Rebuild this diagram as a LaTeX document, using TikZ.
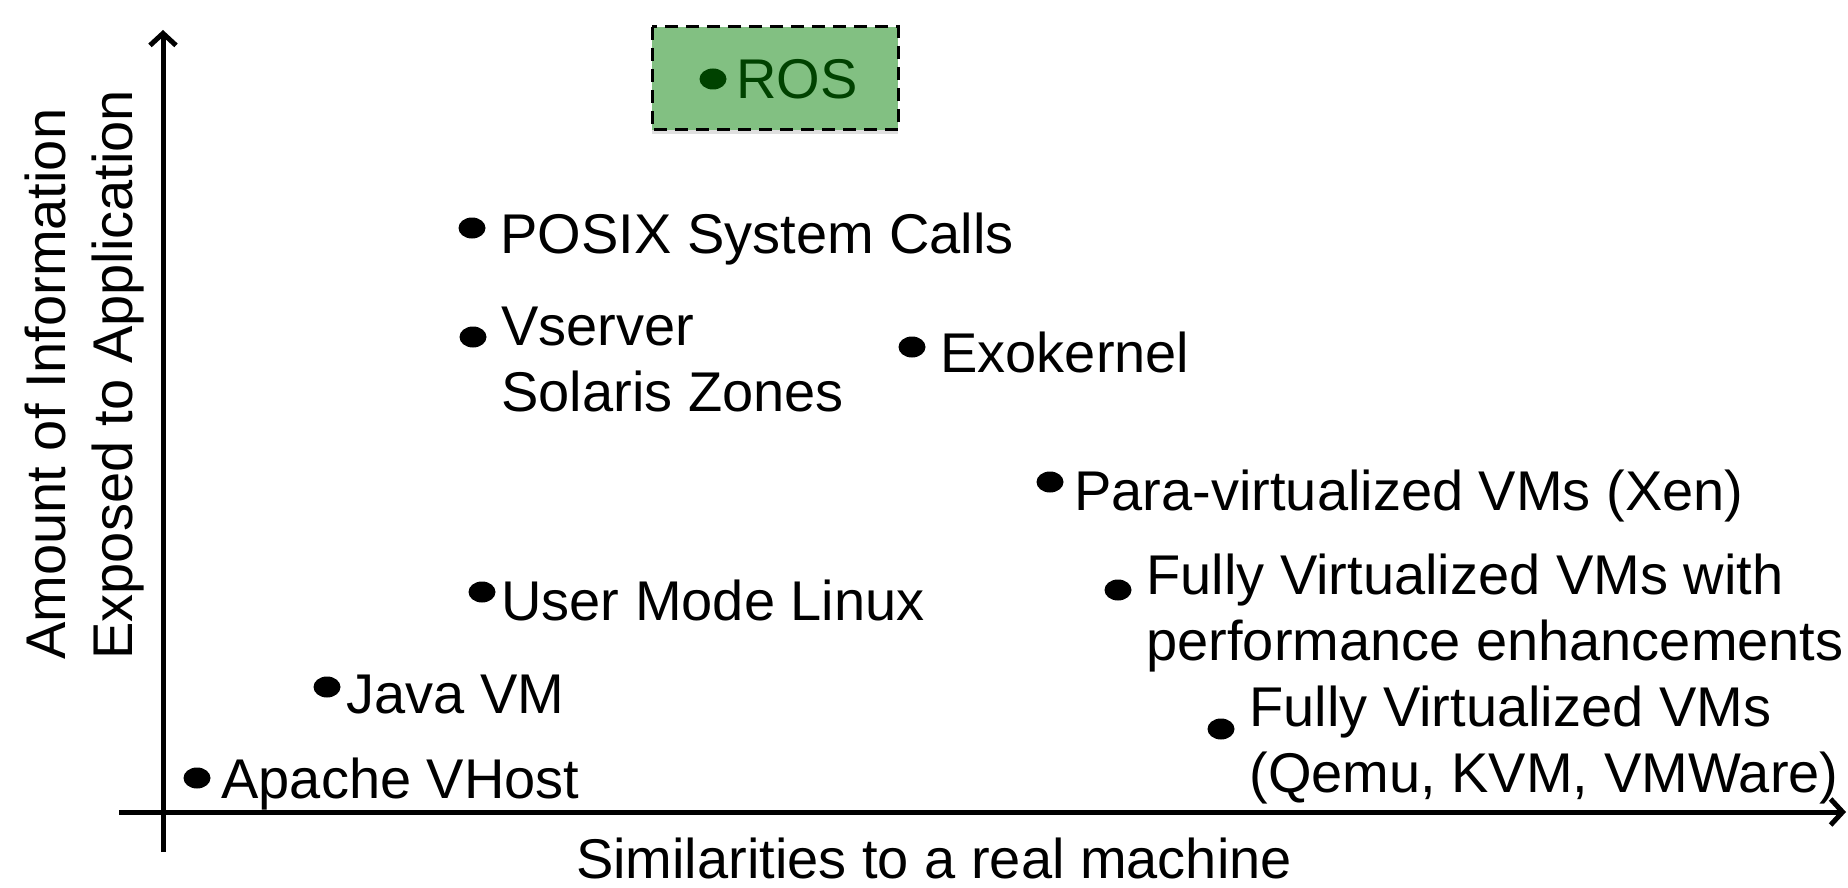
\documentclass[tikz,border=0pt]{standalone}
\usepackage{fontspec}
\setmainfont{Liberation Sans}
\usetikzlibrary{arrows.meta,shapes.geometric,shadows}
\definecolor{rosfill}{RGB}{130,192,130}
\definecolor{rostext}{RGB}{0,66,0}
\newcommand{\twoline}[2]{\vtop{\baselineskip=33pt\hbox{#1}\hbox{#2}}}
\begin{document}
\begin{tikzpicture}[x=0.5pt,y=-0.5pt,
  font=\fontsize{28}{33}\selectfont,
  dotmark/.style={shape=ellipse,fill=black,inner sep=0pt,minimum width=13.5pt,minimum height=10.5pt},
  lbl/.style={anchor=base west,inner sep=0pt},
  axis/.style={line width=2.5pt,-{Straight Barb[length=6pt,width=13pt,line width=2.5pt]}},
  rosbox/.style={draw=black,line width=1.5pt,dash pattern=on 6.5pt off 4pt,fill=rosfill,
    drop shadow={opacity=0.25,shadow xshift=0pt,shadow yshift=-2pt}}]
\useasboundingbox (0,0) rectangle (1848,888);
% axes
\coordinate (ybot) at (163,852);
\coordinate (ytop) at (163,30);
\coordinate (xl) at (119,812);
\coordinate (xr) at (1846,812);
\draw[axis] (ybot) -- (ytop);
\draw[axis] (xl) -- (xr);
% axis labels
\node[anchor=base,inner sep=0pt] (xlab) at (934,878) {Similarities to a real machine};
\node[anchor=base west,inner sep=0pt,rotate=90] (ylab1) at (65,660) {Amount of Information};
\node[anchor=base west,inner sep=0pt,rotate=90] (ylab2) at (132,660) {Exposed to Application};
% ROS
\path[rosbox] (652,27) rectangle (898,130);
\node[dotmark,fill=rostext] (dros) at (713,79) {};
\node[lbl,text=rostext] (ros) at (736,99) {ROS};
% points
\node[dotmark] (dposix) at (472,228) {};
\node[lbl] (posix) at (500,253) {POSIX System Calls};
\node[dotmark] (dvs) at (473,337) {};
\node[lbl] (vs) at (501,345) {\twoline{Vserver}{Solaris Zones}};
\node[dotmark] (dexo) at (912,347) {};
\node[lbl] (exo) at (940,372) {Exokernel};
\node[dotmark] (dpara) at (1050,482) {};
\node[lbl] (para) at (1074,510) {Para-virtualized VMs (Xen)};
\node[dotmark] (duml) at (482,592) {};
\node[lbl] (uml) at (501,620) {User Mode Linux};
\node[dotmark] (dfvp) at (1118,590) {};
\node[lbl] (fvp) at (1146,594) {\twoline{Fully Virtualized VMs with}{performance enhancements}};
\node[dotmark] (dfv) at (1221,729) {};
\node[lbl] (fv) at (1249,726) {\twoline{Fully Virtualized VMs}{(Qemu, KVM, VMWare)}};
\node[dotmark] (djava) at (327,687) {};
\node[lbl] (java) at (346,713) {Java VM};
\node[dotmark] (dapache) at (197,778) {};
\node[lbl] (apache) at (221,798) {Apache VHost};
\end{tikzpicture}
\end{document}
